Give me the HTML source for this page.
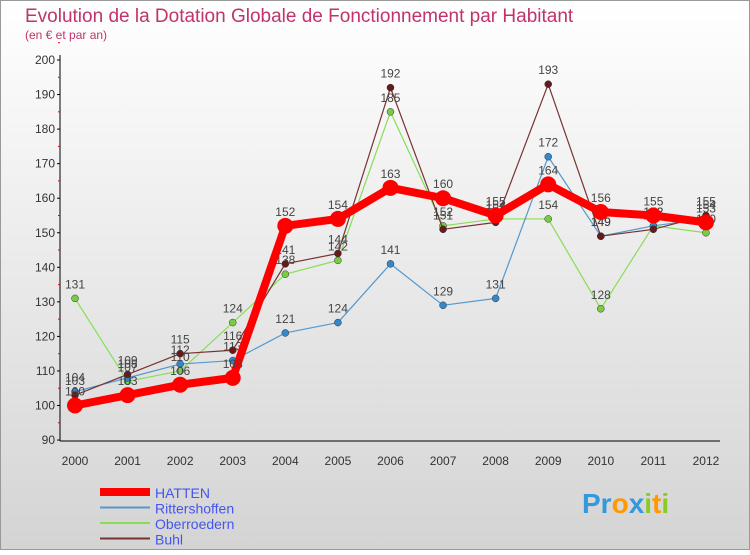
<!DOCTYPE html>
<html><head><meta charset="utf-8"><style>
body{margin:0;width:750px;height:550px;overflow:hidden;font-family:"Liberation Sans",sans-serif}
</style></head><body>
<svg width="750" height="550" xmlns="http://www.w3.org/2000/svg">
<defs><linearGradient id="bg" x1="0" y1="0" x2="0" y2="1"><stop offset="0" stop-color="#ffffff"/><stop offset="1" stop-color="#d4d4d4"/></linearGradient></defs>
<rect x="0.5" y="0.5" width="749" height="549" fill="url(#bg)" stroke="#999"/>
<text x="25" y="22" font-size="19" fill="#c0336b">Evolution de la Dotation Globale de Fonctionnement par Habitant</text>
<text x="25" y="39" font-size="12" fill="#c0336b">(en € et par an)</text>
<g id="axes"></g><g id="series"></g><g id="legend"></g>
</svg>
<script>
const years=[2000,2001,2002,2003,2004,2005,2006,2007,2008,2009,2010,2011,2012];
const hatten=[100,103,106,108,152,154,163,160,155,164,156,155,153];
const ritter=[104,108,112,113,121,124,141,129,131,172,149,152,154];
const ober=[131,107,110,124,138,142,185,152,154,154,128,152,150];
const buhl=[103,109,115,116,141,144,192,151,153,193,149,151,155];
const yTicks=[90,100,110,120,130,140,150,160,170,180,190,200];
const NS="http://www.w3.org/2000/svg";
const X=i=>75+i*52.58, Y=v=>405.5-(v-100)*3.455;
function mk(t,a,p){const e=document.createElementNS(NS,t);for(const k in a)e.setAttribute(k,a[k]);p.appendChild(e);return e;}
const ax=document.getElementById('axes');
let l=mk('line',{x1:60,y1:55,x2:60,y2:441,stroke:'#000'},ax);


l=mk('line',{x1:60,y1:441,x2:720,y2:441,stroke:'#000'},ax);


yTicks.forEach(v=>{
 const t=mk('text',{x:55,y:Y(v)+4,'font-size':12,'text-anchor':'end',fill:'#333'},ax);t.textContent=v;
 
 
 mk('line',{x1:57,y1:Y(v),x2:60,y2:Y(v),stroke:'#000'},ax);
 mk('line',{x1:58,y1:Y(v+5),x2:60,y2:Y(v+5),stroke:'#e00'},ax);
});
years.forEach((y,i)=>{
 const t=mk('text',{x:X(i),y:465,'font-size':12,'text-anchor':'middle',fill:'#333'},ax);t.textContent=y;
 
 
});
const sg=document.getElementById('series');
function draw(vals,col,w,r,name,dot){
 const g=mk('g',{},sg);
 
 
 mk('polyline',{points:vals.map((v,i)=>X(i)+','+Y(v)).join(' '),fill:'none',stroke:col,'stroke-width':w,'stroke-linejoin':'round'},g);
 vals.forEach((v,i)=>{
  const c=mk('circle',{cx:X(i),cy:Y(v),r:r,fill:dot,stroke:'#333','stroke-width':r>5?0:0.5},g);
  
  
  const t=mk('text',{x:X(i),y:Y(v)-10,'font-size':12,'text-anchor':'middle',fill:'#444'},g);t.textContent=v;
  
  
 });
}
draw(ober,'#88dd55',1.2,3.5,'oberroedern','#77cc44');
draw(ritter,'#5599cc',1.2,3.5,'rittershoffen','#3388cc');
draw(buhl,'#773333',1.2,3.5,'buhl','#661a1a');
draw(hatten,'#ff0000',8,8,'hatten','#ff0000');
const lg=document.getElementById('legend');
[['HATTEN','#ff0000',8],['Rittershoffen','#5599cc',2],['Oberroedern','#88dd55',2],['Buhl','#773333',2]].forEach((d,i)=>{
 const y=492+i*15.5;
 const g=mk('g',{},lg);
 
 
 mk('line',{x1:100,y1:y,x2:150,y2:y,stroke:d[1],'stroke-width':d[2]},g);
 const t=mk('text',{x:155,y:y+6,'font-size':14,fill:'#4455ee'},g);t.textContent=d[0];
});
</script>
<div style="position:absolute;left:582px;top:488px;font-size:28px;font-weight:bold;font-family:'Liberation Sans',sans-serif"><span style="color:#3399dd">Pr</span><span style="color:#ff9900">o</span><span style="color:#3399dd">x</span><span style="color:#88cc22">i</span><span style="color:#ff9900">t</span><span style="color:#88cc22">i</span></div>
</body></html>
